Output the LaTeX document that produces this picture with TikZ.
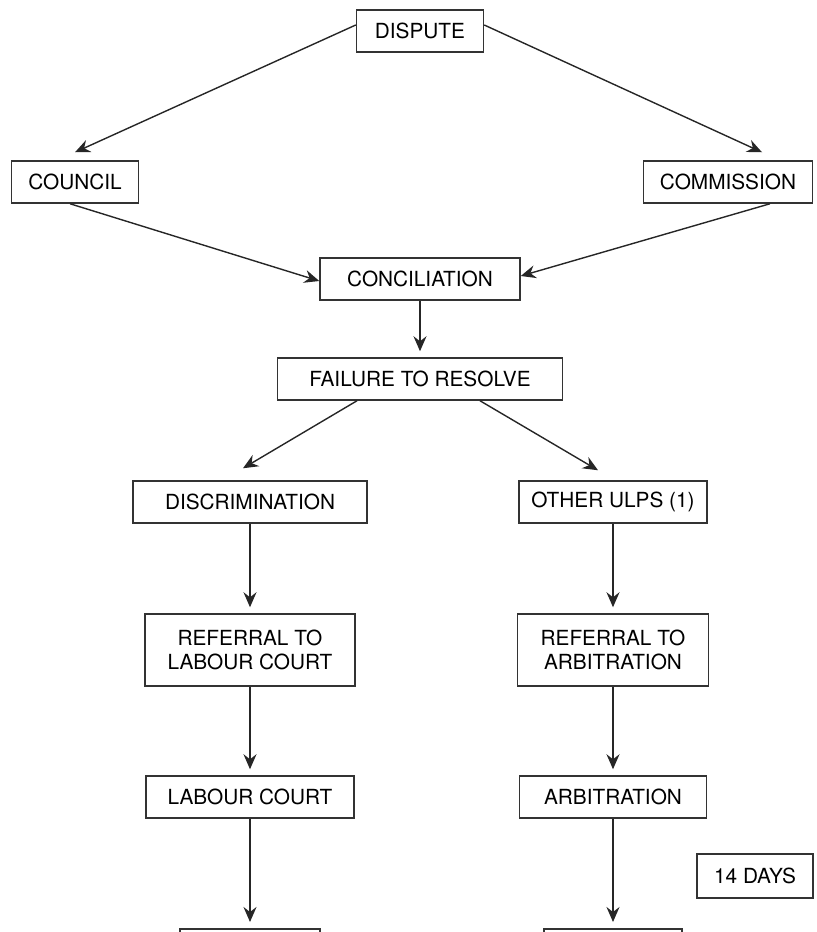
\documentclass[tikz,border=0pt]{standalone}
\usepackage{fontspec}
\setmainfont{TeX Gyre Heros}
\usepackage{tikz}
\usetikzlibrary{arrows.meta}

\begin{document}
\begin{tikzpicture}[x=0.5pt, y=-0.5pt, >={Stealth[length=7.5pt, width=6.5pt, inset=2.5pt]},
        box/.style={draw=black!80, line width=0.75pt, inner sep=0pt, align=center,
            minimum height=21pt, font=\fontsize{10.4}{12.4}\selectfont},
        flow/.style={->, line width=0.7pt, black!85}]
        \useasboundingbox (0,0) rectangle (817,932);
        \clip (0,0) rectangle (817,932);
        % Top of the chart
        \node[box, minimum width=63.5pt] (dispute) at (420,31) {DISPUTE};
        \node[box, minimum width=63.5pt] (council) at (75,182) {COUNCIL};
        \node[box, minimum width=84.5pt] (commission) at (728,182) {COMMISSION};
        \node[box, minimum width=100pt] (conciliation) at (420,279) {CONCILIATION};
        \node[box, minimum width=142.5pt] (failure) at (420,379) {FAILURE TO RESOLVE};
        % Left column
        \node[box, minimum width=117pt] (discrimination) at (250,502) {DISCRIMINATION};
        \node[box, minimum width=105pt, minimum height=36pt] (reflc) at (250,650) {REFERRAL TO\\LABOUR COURT};
        \node[box, minimum width=104pt] (lc) at (250,797) {LABOUR COURT};
        \node[box, minimum width=70pt, anchor=north] (endlc) at (250,928) {};
        % Right column
        \node[box, minimum width=94pt] (other) at (613,502) {OTHER ULPS (1)};
        \node[box, minimum width=95.5pt, minimum height=36pt] (refarb) at (613,650) {REFERRAL TO\\ARBITRATION};
        \node[box, minimum width=93.5pt] (arb) at (613,797) {ARBITRATION};
        \node[box, minimum width=69pt, anchor=north] (endarb) at (613,928) {};
        \node[box, minimum width=58pt, minimum height=22pt] (days) at (755,876) {14 DAYS};
        % Connectors
        \draw[flow] ([yshift=3pt]dispute.west) -- ([yshift=4pt]council.north);
        \draw[flow] ([yshift=3pt]dispute.east) -- ([xshift=17pt, yshift=4pt]commission.north);
        \draw[flow] ([xshift=-2.5pt]council.south) -- ([yshift=-1pt]conciliation.west);
        \draw[flow] ([xshift=21pt]commission.south) -- ([yshift=1.5pt]conciliation.east);
        \draw[flow, shorten >=3pt] (conciliation.south) -- (failure.north);
        \draw[flow] ([xshift=-31.5pt]failure.south) -- ([xshift=-3.5pt, yshift=6pt]discrimination.north);
        \draw[flow] ([xshift=30pt]failure.south) -- ([xshift=-7.5pt, yshift=5pt]other.north);
        \foreach \a/\b in {discrimination/reflc, reflc/lc, lc/endlc, other/refarb, refarb/arb, arb/endarb} {
            \draw[flow, shorten >=3pt] (\a.south) -- (\b.north);
        }
    \end{tikzpicture}
\end{document}
